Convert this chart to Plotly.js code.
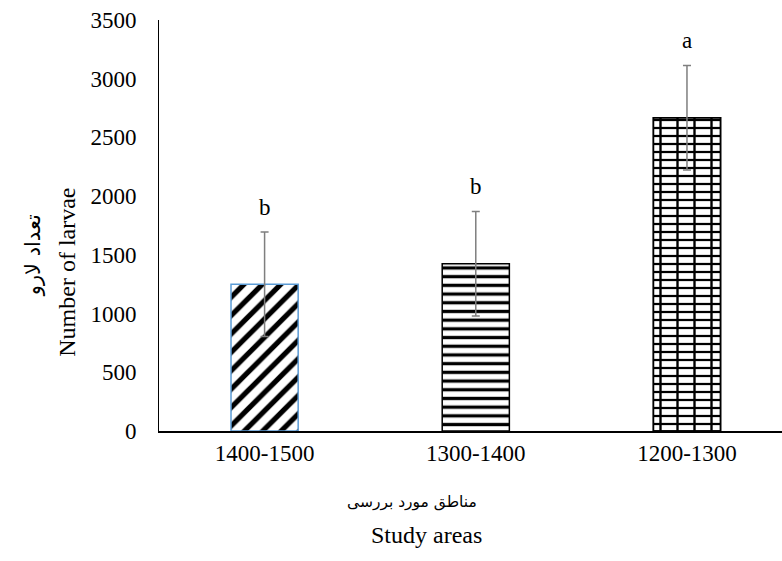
<!DOCTYPE html>
<html>
<head>
<meta charset="utf-8">
<script src="https://cdn.plot.ly/plotly-3.0.1.min.js"></script>
<style>html,body{margin:0;padding:0;background:#fff;}#chart{width:782px;height:561px;}</style>
</head>
<body>
<div id="chart"></div>
<script>
const categories = ['1400-1500', '1300-1400', '1200-1300'];
const larvae = [1250, 1425, 2668];
const errors = [445, 445, 445];
const letters = ['b', 'b', 'a'];
const yTitleEn = 'Number of larvae';
const yTitleFa = 'تعداد لارو';
const xTitleEn = 'Study areas';
const xTitleFa = 'مناطق مورد بررسی';

const serif = 'Liberation Serif, Times New Roman, serif';
const arabic = 'DejaVu Sans, sans-serif';
const barWidth = 0.318;

function oneBar(i, pattern, lineColor, extra) {
  return Object.assign({
    type: 'bar',
    x: [categories[i]],
    y: [larvae[i]],
    width: barWidth,
    marker: {
      color: '#ffffff',
      line: {color: lineColor, width: 1.5},
      pattern: pattern
    },
    hoverinfo: 'skip',
    showlegend: false
  }, extra || {});
}

const err = i => ({type: 'data', array: [errors[i]], visible: true, color: '#7f7f7f', thickness: 1.5, width: 4});

const traces = [
  oneBar(0, {shape: '/', fgcolor: '#000', bgcolor: '#fff', size: 13, solidity: 0.4}, '#5b9bd5', {error_y: err(0)}),
  oneBar(1, {shape: '-', fgcolor: '#000', bgcolor: '#fff', size: 8.7, solidity: 0.38}, '#000', {error_y: err(1)}),
  oneBar(2, {shape: '-', fgcolor: '#000', bgcolor: '#fff', size: 8, solidity: 0.28}, '#000'),
  oneBar(2, {shape: '|', fgcolor: '#000', bgcolor: 'rgba(0,0,0,0)', size: 17, solidity: 0.14}, '#000', {error_y: err(2)})
];

const annotations = categories.map((c, i) => ({
  x: c, y: larvae[i] + errors[i], xref: 'x', yref: 'y',
  text: letters[i], showarrow: false, yanchor: 'bottom', yshift: 10,
  font: {family: serif, size: 23, color: '#000'}
}));

annotations.push(
  {text: xTitleFa, xref: 'paper', yref: 'paper', x: 0.406, y: -0.172, showarrow: false,
   xanchor: 'center', yanchor: 'middle', font: {family: arabic, size: 15.5, color: '#000'}},
  {text: xTitleEn, xref: 'paper', yref: 'paper', x: 0.429, y: -0.253, showarrow: false,
   xanchor: 'center', yanchor: 'middle', font: {family: serif, size: 24, color: '#000'}},
  {text: yTitleEn, xref: 'paper', yref: 'paper', x: -0.148, y: 0.387, showarrow: false, textangle: -90,
   xanchor: 'center', yanchor: 'middle', font: {family: serif, size: 24, color: '#000'}},
  {text: yTitleFa, xref: 'paper', yref: 'paper', x: -0.202, y: 0.428, showarrow: false, textangle: -90,
   xanchor: 'center', yanchor: 'middle', font: {family: arabic, size: 21, color: '#000'}}
);

const layout = {
  width: 782, height: 561,
  margin: {l: 159, r: 0, t: 20, b: 130},
  paper_bgcolor: '#fff', plot_bgcolor: '#fff',
  barmode: 'overlay',
  font: {family: serif, size: 23, color: '#000'},
  xaxis: {
    type: 'category', range: [-0.5, 2.45],
    showline: true, linecolor: '#000', linewidth: 2,
    showgrid: false, zeroline: false, ticks: '',
    tickfont: {family: serif, size: 23, color: '#000'}
  },
  yaxis: {
    range: [0, 3500], dtick: 500, tick0: 0,
    showline: true, linecolor: '#000', linewidth: 1,
    showgrid: false, zeroline: false, ticks: '',
    ticklabelstandoff: 17,
    tickfont: {family: serif, size: 23, color: '#000'}
  },
  annotations: annotations
};

Plotly.newPlot('chart', traces, layout, {staticPlot: true});
</script>
</body>
</html>
